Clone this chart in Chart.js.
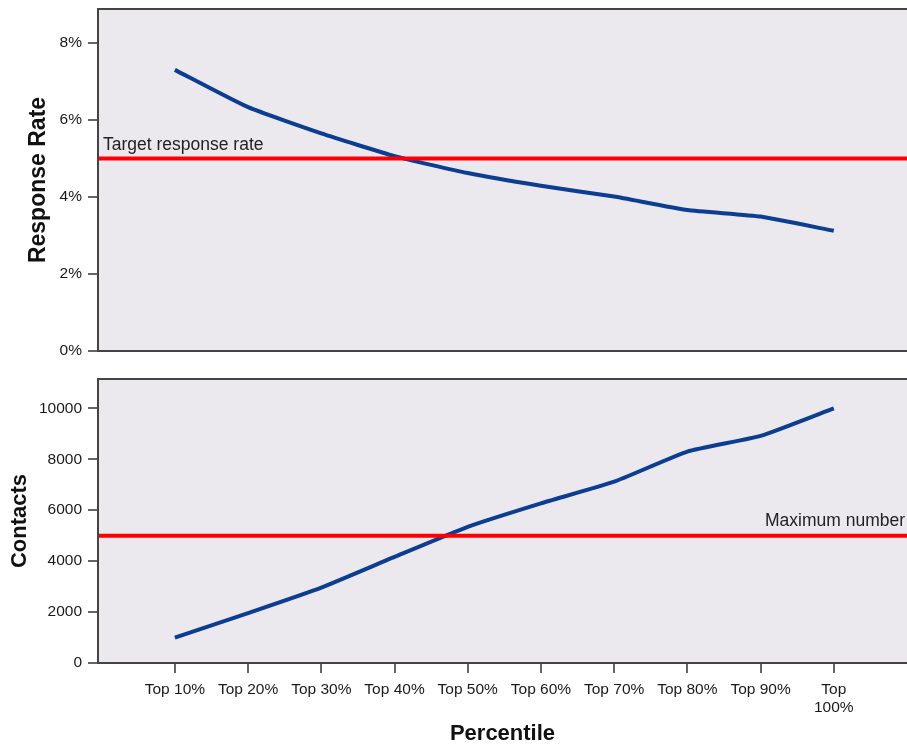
<!DOCTYPE html>
<html><head><meta charset="utf-8">
<script src="https://cdn.jsdelivr.net/npm/chart.js@4/dist/chart.umd.min.js"></script>
<style>
html,body{margin:0;padding:0;background:#fff;overflow:hidden;}
#wrap{position:relative;width:907px;height:745px;}
canvas{position:absolute;left:0;}
</style></head><body>
<div id="wrap">
<canvas id="c1" width="907" height="365" style="top:0px"></canvas>
<canvas id="c2" width="907" height="380" style="top:365px"></canvas>
</div>
<script>
// ---- data ----
const categories = ['Top 10%','Top 20%','Top 30%','Top 40%','Top 50%','Top 60%','Top 70%','Top 80%','Top 90%','Top 100%'];
const responseRate = [7.30, 6.33, 5.65, 5.06, 4.62, 4.29, 4.01, 3.66, 3.49, 3.12];
const contacts = [1000, 1960, 2960, 4165, 5346, 6268, 7118, 8299, 8917, 10000];
const targetResponseRate = 5;
const maxContacts = 5000;
const rateTicks = [0, 2, 4, 6, 8];
const contactTicks = [0, 2000, 4000, 6000, 8000, 10000];
const targetLabel = 'Target response rate';
const maxLabel = 'Maximum number';

Chart.defaults.font.family = "'Liberation Sans', Arial, sans-serif";
Chart.defaults.color = '#222';
Chart.defaults.animation = false;

const PLOT_BG = '#EBE9EE';
const LINE_BLUE = '#0B3D91';

function toPoints(arr){ return arr.map((v,i)=>({x:i+1, y:v})); }

const panelPlugin = {
  id: 'panel',
  beforeDraw(chart){
    const {ctx, chartArea:a} = chart;
    ctx.save();
    ctx.fillStyle = PLOT_BG;
    ctx.fillRect(a.left, a.top, a.right - a.left, a.bottom - a.top);
    ctx.restore();
  },
  afterDatasetsDraw(chart, args, opts){
    const {ctx, chartArea:a} = chart;
    const y = chart.scales.y.getPixelForValue(opts.refValue);
    ctx.save();
    ctx.strokeStyle = '#FF0000';
    ctx.lineWidth = 4;
    ctx.beginPath();
    ctx.moveTo(a.left, y);
    ctx.lineTo(a.right, y);
    ctx.stroke();
    ctx.fillStyle = '#222';
    ctx.font = "17.5px 'Liberation Sans', Arial, sans-serif";
    ctx.textBaseline = 'alphabetic';
    if (opts.labelAlign === 'left') {
      ctx.textAlign = 'left';
      ctx.fillText(opts.label, a.left + 5, y - 8.5);
    } else {
      ctx.textAlign = 'right';
      ctx.fillText(opts.label, a.right - 2, y - 9.5);
    }
    // frame: top, left, bottom
    ctx.strokeStyle = '#444';
    ctx.lineWidth = 2;
    ctx.beginPath();
    ctx.moveTo(a.right + 2, a.top);
    ctx.lineTo(a.left, a.top);
    ctx.lineTo(a.left, a.bottom);
    ctx.lineTo(a.right + 2, a.bottom);
    ctx.stroke();
    ctx.restore();
  }
};

function yScale(ticksArr, max, fmt, title, titleSize, titlePad){
  return {
    type: 'linear', min: 0, max: max,
    afterBuildTicks(s){ s.ticks = ticksArr.map(v => ({value: v})); },
    afterFit(s){ s.width = 98; s.paddingTop = 0; s.paddingBottom = 0; },
    border: {display: false},
    grid: {drawOnChartArea: false, drawTicks: true, tickLength: 10, color: '#666', lineWidth: 2},
    ticks: {padding: 6, font: {size: 15.5}, color: '#1a1a1a', callback: fmt},
    title: {display: true, text: title, font: {size: titleSize, weight: 'bold', lineHeight: 1}, color: '#111', padding: {top: titlePad, bottom: 0}}
  };
}

const xBase = {
  type: 'linear', min: -0.05, max: 11,
  afterBuildTicks(s){ s.ticks = categories.map((c,i) => ({value: i+1})); },
};

new Chart(document.getElementById('c1'), {
  type: 'line',
  data: { datasets: [{ data: toPoints(responseRate), borderColor: LINE_BLUE, borderWidth: 4, pointRadius: 0, tension: 0.15, fill: false }] },
  options: {
    responsive: false,
    layout: {padding: {top: 9, bottom: 14, left: 0, right: 0}},
    plugins: { legend: {display: false}, tooltip: {enabled: false},
      panel: {refValue: targetResponseRate, label: targetLabel, labelAlign: 'left'} },
    scales: {
      x: Object.assign({}, xBase, {display: false}),
      y: yScale(rateTicks, 8.88, v => v + '%', 'Response Rate', 23, 27)
    }
  },
  plugins: [panelPlugin]
});

new Chart(document.getElementById('c2'), {
  type: 'line',
  data: { datasets: [{ data: toPoints(contacts), borderColor: LINE_BLUE, borderWidth: 4, pointRadius: 0, tension: 0.15, fill: false }] },
  options: {
    responsive: false,
    layout: {padding: {top: 14, bottom: 0, left: 0, right: 0}},
    plugins: { legend: {display: false}, tooltip: {enabled: false},
      panel: {refValue: maxContacts, label: maxLabel, labelAlign: 'right'} },
    scales: {
      x: Object.assign({}, xBase, {
        display: true,
        afterFit(s){ s.height = 82; s.paddingLeft = 0; s.paddingRight = 0; },
        border: {display: false},
        grid: {drawOnChartArea: false, drawTicks: true, tickLength: 10, color: '#666', lineWidth: 2},
        ticks: {autoSkip: false, maxRotation: 0, minRotation: 0, padding: 8, font: {size: 15.5, lineHeight: 1.17}, color: '#1a1a1a',
          callback: v => { const c = categories[v-1]; if (!c) return ''; return c.length > 7 ? c.split(' ') : c; }},
        title: {display: true, text: 'Percentile', font: {size: 22, weight: 'bold', lineHeight: 1}, color: '#111', padding: {top: 0, bottom: 0}}
      }),
      y: yScale(contactTicks, 11150, v => String(v), 'Contacts', 22, 9)
    }
  },
  plugins: [panelPlugin]
});
</script>
</body></html>
